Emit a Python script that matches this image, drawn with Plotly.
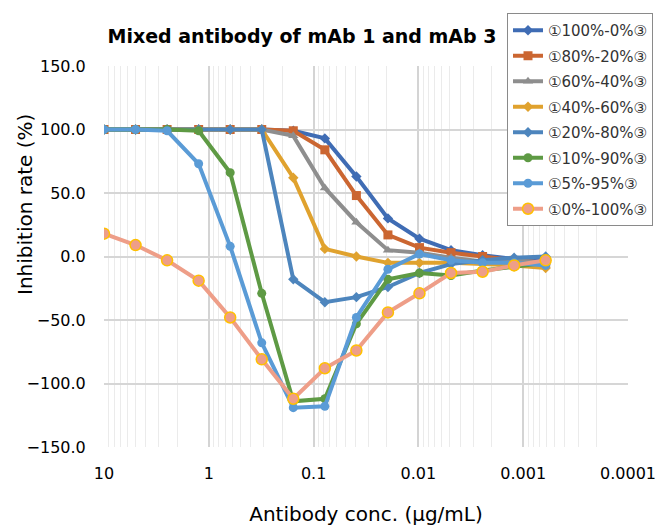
import plotly.graph_objects as go

conc = [10, 5, 2.5, 1.25, 0.625, 0.3125, 0.15625, 0.078125, 0.0390625,
        0.01953125, 0.009765625, 0.0048828125, 0.00244140625, 0.001220703125, 0.0006103515625]

names = ["①100%-0%③", "①80%-20%③", "①60%-40%③", "①40%-60%③",
         "①20%-80%③", "①10%-90%③", "①5%-95%③", "①0%-100%③"]

s100_0 = [100, 100, 100, 100, 100, 100, 99, 93, 63, 30, 14, 5, 1, -2, -1]
s80_20 = [100, 100, 100, 100, 100, 100, 99, 84, 48, 17, 7, 3, 0, -3, -5]
s60_40 = [100, 100, 100, 100, 100, 100, 95, 54, 27, 5, 3, -1, -4, -3, -5]
s40_60 = [100, 100, 100, 100, 100, 100, 62, 6, 0, -5, -5, -5, -6, -7, -9]
s20_80 = [100, 100, 100, 100, 100, 100, -18, -36, -32, -24, -13, -6, -3, -1, 0]
s10_90 = [100, 100, 100, 99, 66, -29, -114, -112, -53, -18, -13, -15, -11, -8, -5]
s5_95 = [100, 100, 99, 73, 8, -68, -119, -118, -48, -10, 2, -3, -5, -5, -7]
s0_100 = [18, 9, -3, -19, -48, -81, -112, -88, -74, -44, -29, -13, -12, -7, -3]

series = [s100_0, s80_20, s60_40, s40_60, s20_80, s10_90, s5_95, s0_100]

x_tickvals = [10, 1, 0.1, 0.01, 0.001, 0.0001]
x_ticktext = ["10", "1", "0.1", "0.01", "0.001", "0.0001"]
y_tickvals = [-150, -100, -50, 0, 50, 100, 150]

colors = ["#3F6CB4", "#CB6631", "#8E8E8E", "#E0A22E", "#4D85BD", "#5E9A44", "#5A9BD6", "#EE9E88"]
symbols = ["diamond", "square", "triangle-up", "diamond", "diamond", "circle", "circle", "circle"]
msizes = [8, 9, 9, 8, 8, 9, 9, 11]

FONT = "DejaVu Sans, Noto Sans CJK JP, sans-serif"

fig = go.Figure()
for i, (nm, ys) in enumerate(zip(names, series)):
    mk = dict(symbol=symbols[i], size=msizes[i], color=colors[i])
    if i == 7:
        mk["line"] = dict(color="#FFC000", width=1.5)
    fig.add_trace(go.Scatter(
        x=conc, y=ys, name=nm, mode="lines+markers",
        line=dict(color=colors[i], width=4),
        marker=mk, legendgroup=f"g{i}",
    ))

fig.update_layout(
    width=655, height=526,
    margin=dict(l=104, r=27, t=66, b=79, autoexpand=False),
    paper_bgcolor="white", plot_bgcolor="white",
    font=dict(family=FONT, size=16, color="#000000"),
    title=dict(text="<b>Mixed antibody of mAb 1 and mAb 3</b>",
               x=302 / 655, xanchor="center", y=1 - 36 / 526, yanchor="middle",
               font=dict(size=19, family=FONT, color="#000000")),
    showlegend=True,
    legend=dict(x=(507 - 104) / 524, y=(447 - 13) / 381, xanchor="left", yanchor="top",
                bgcolor="white", bordercolor="#8A8A8A", borderwidth=1,
                font=dict(size=15, family=FONT, color="#333333"),
                tracegroupgap=3, itemwidth=30),
    annotations=[dict(text="Inhibition rate (%)", textangle=-90,
                      xref="paper", yref="paper",
                      x=(25 - 104) / 524, y=(447 - 205) / 381,
                      xanchor="center", yanchor="middle", showarrow=False,
                      font=dict(size=20, family=FONT, color="#000000"))],
)

fig.update_xaxes(
    type="log", range=[1, -4], automargin=False, ticklabeloverflow="allow",
    tickvals=x_tickvals, ticktext=x_ticktext,
    showgrid=True, gridcolor="#D4D4D4", gridwidth=1.5,
    minor=dict(dtick="D1", showgrid=True, gridcolor="#EBEBEB", gridwidth=1),
    zeroline=False, showline=False, ticks="outside", ticklen=12, tickcolor="rgba(0,0,0,0)",
    tickfont=dict(size=16, family=FONT, color="#000000"),
    title=dict(text="Antibody conc. (μg/mL)", font=dict(size=20, family=FONT, color="#000000"), standoff=24),
)
fig.update_yaxes(
    range=[-150, 150], tickvals=y_tickvals, tickformat=".1f", automargin=False,
    showgrid=True, gridcolor="#D6D6D6", gridwidth=1.5,
    zeroline=False, showline=False, ticks="outside", ticklen=14, tickcolor="rgba(0,0,0,0)",
    tickfont=dict(size=16, family=FONT, color="#000000"),
)

fig.write_html("out.html")
